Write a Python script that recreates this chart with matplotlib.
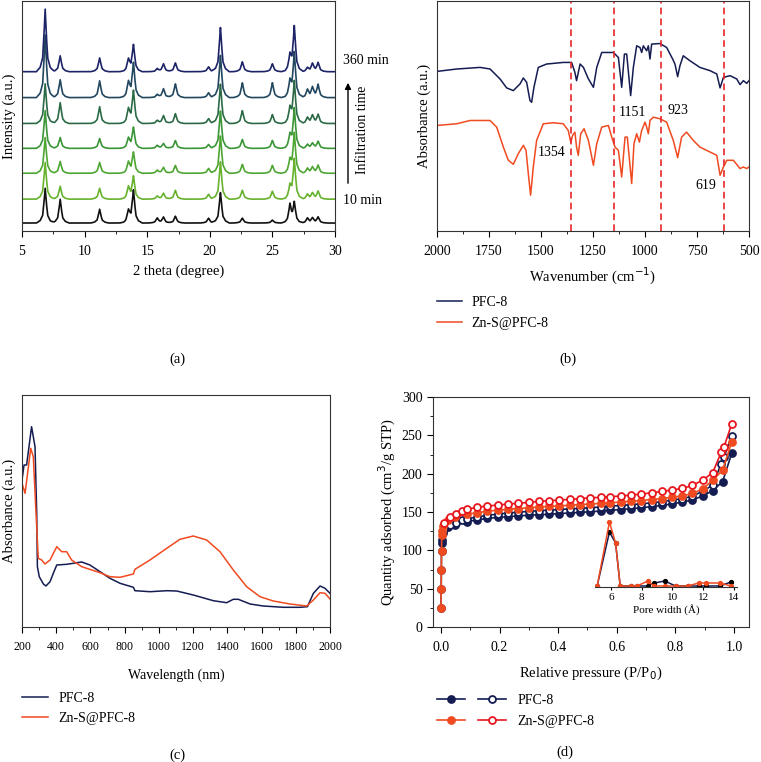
import numpy as np
import matplotlib
matplotlib.use("Agg")
import matplotlib.pyplot as plt
from matplotlib.legend_handler import HandlerTuple
from matplotlib.ticker import MultipleLocator

plt.rcParams['font.family'] = ['Liberation Serif', 'DejaVu Serif']
plt.rcParams['axes.linewidth'] = 0.8
plt.rcParams['axes.edgecolor'] = '#333333'
plt.rcParams['xtick.direction'] = 'out'
plt.rcParams['ytick.direction'] = 'out'

NAVY = '#141c52'
RED = '#f04a20'
RED_OPEN = '#e8161e'

# ---------------- (a) XRD, peak positions (2 theta) and heights per trace
xrd_pos = [6.85, 8.05, 11.2, 13.5, 13.9, 15.8, 16.3, 17.25, 19.9, 20.85,
           22.6, 25.0, 26.4, 26.75, 27.8, 28.2, 28.65]
xrd_base = [8, 32, 58, 83, 108, 134, 160]
xrd_h = [
    [35, 24, 14, 12, 33, 5, 6, 7, 5, 31, 5, 3, 18, 20, 5, 5, 6],
    [37, 13, 11, 12, 23, 3, 6, 9, 5, 38, 9, 8, 12, 40, 5, 6, 8],
    [36, 12, 11, 11, 21, 3, 6, 8, 5, 38, 9, 8, 12, 40, 5, 6, 8],
    [38, 11, 10, 10, 21, 3, 5, 8, 4, 38, 9, 8, 12, 40, 4, 5, 7],
    [40, 21, 17, 14, 33, 3, 8, 10, 5, 40, 13, 9, 14, 42, 6, 8, 9],
    [63, 18, 17, 15, 35, 3, 9, 14, 5, 43, 15, 15, 15, 45, 8, 10, 13],
    [63, 16, 14, 12, 27, 3, 8, 9, 5, 45, 10, 8, 15, 45, 4, 8, 9],
]
xrd_colors = ['#111111', '#66b22c', '#4ea632', '#3a9536', '#2b6a45', '#22475f', '#1c2366']

# ---------------- (b) FTIR
ir_pfc_x = [2000, 1905, 1793, 1745, 1697, 1665, 1633, 1601, 1585, 1569, 1553, 1545, 1534,
            1513, 1473, 1393, 1353, 1337, 1329, 1312, 1296, 1272, 1248, 1232, 1208, 1152,
            1128, 1112, 1099, 1088, 1069, 1056, 1040, 1024, 1016, 1008, 992, 984, 976, 968,
            928, 896, 867, 856, 843, 832, 816, 784, 736, 687, 655, 639, 623, 591, 559, 543,
            527, 511, 500]
ir_pfc_y = [160.3, 162.7, 164.3, 162.7, 152.7, 143.7, 141, 147.7, 153.7, 149.3, 131, 129.3,
            144.3, 164.3, 167.7, 169.3, 169.3, 159.3, 151, 167.7, 164.3, 152.7, 144.3, 164.3,
            179.3, 179.3, 174.3, 144.3, 177.7, 177.7, 136, 164.3, 186, 184.3, 179.3, 186, 181,
            186, 172.7, 187.7, 188.3, 184.3, 172.7, 167.7, 155, 166, 176, 171, 164.3, 161,
            157.7, 143.7, 154.3, 156, 152.7, 147, 151, 148.3, 151]
ir_zns_x = [2000, 1905, 1841, 1745, 1713, 1681, 1657, 1633, 1609, 1585, 1572, 1561, 1550,
            1537, 1521, 1489, 1441, 1393, 1369, 1357, 1348, 1337, 1329, 1321, 1309, 1293,
            1272, 1248, 1232, 1208, 1176, 1160, 1144, 1128, 1112, 1096, 1085, 1064, 1053,
            1040, 1027, 1016, 1000, 992, 984, 976, 960, 928, 896, 864, 843, 824, 800, 768,
            736, 687, 655, 639, 623, 607, 575, 543, 527, 511, 500]
ir_zns_y = [106, 107.7, 111, 111, 104.3, 84.3, 71, 67, 77.7, 86, 81, 57.7, 36, 64.3, 91,
            107.7, 108.7, 107.7, 101, 89.3, 96, 99.3, 84.3, 76, 97.7, 102.7, 91, 66, 87.7,
            104.3, 106, 94.3, 84.3, 81, 54.3, 94.3, 94.3, 47.7, 87.7, 97.7, 89.3, 101, 109.3,
            104.3, 97.7, 111, 114.3, 112.7, 109.3, 91, 73.7, 94.3, 99.3, 91, 84.3, 79.3, 76,
            56, 64.3, 71, 71, 62.7, 64.3, 62.7, 64.3]
ir_marks = [1354, 1151, 923, 619]

# ---------------- (c) UV-vis-NIR
uv_pfc_x = [200, 212, 227, 256, 276, 286, 290, 301, 325, 340, 364, 383, 403, 461, 549, 597,
            656, 714, 773, 851, 860, 948, 1046, 1104, 1201, 1318, 1396, 1435, 1464, 1533,
            1610, 1727, 1825, 1868, 1903, 1942, 1971, 2000]
uv_pfc_y = [147, 162, 162, 200.3, 180.3, 113.7, 60.3, 50.3, 43, 41, 45.3, 53.7, 62, 62.7,
            65, 62, 55.3, 48.7, 43.7, 39.7, 36.3, 35.3, 36.3, 36, 32, 26.3, 24.3, 27.7, 27.7,
            23, 21, 19.7, 19.7, 20.3, 33.7, 41, 38.7, 33.7]
uv_zns_x = [200, 218, 251, 266, 282, 295, 315, 334, 364, 403, 432, 461, 490, 549, 656, 714,
            773, 851, 860, 948, 1046, 1123, 1201, 1279, 1357, 1435, 1513, 1591, 1669, 1766,
            1864, 1903, 1942, 1971, 2000]
uv_zns_y = [143.7, 133.7, 178.7, 170.3, 113.7, 68.7, 67, 63, 67, 80.3, 75.3, 75.3, 67,
            60.3, 54.3, 50.3, 49.7, 53, 57.7, 67, 78.7, 87.7, 91, 87, 75.3, 57, 40.3, 30.3,
            26, 23, 21, 27, 34.3, 33.7, 28]

# ---------------- (d) N2 isotherms
p_ads = [0.0005, 0.001, 0.0015, 0.002, 0.003, 0.005, 0.008, 0.025, 0.047, 0.088, 0.122,
         0.158, 0.196, 0.230, 0.264, 0.300, 0.335, 0.370, 0.404, 0.440, 0.474, 0.509,
         0.545, 0.577, 0.613, 0.648, 0.683, 0.719, 0.753, 0.787, 0.823, 0.858, 0.893,
         0.927, 0.961, 0.992]
pfc_ads = [25, 50, 75, 99, 110, 114, 122, 130, 133.5, 137.4, 139.6, 141.7, 143, 143.9, 145,
           145.7, 146.5, 147, 148, 148.7, 149.5, 150.3, 151.2, 152.2, 153.2, 154.3, 155.5,
           157, 158.5, 160.4, 163, 165.7, 170.9, 177.8, 189.6, 226.5]
zns_ads = [25, 50, 75, 99, 120, 125, 132, 139, 143, 147, 149, 151, 152.5, 153.5, 154.5,
           155.5, 156.5, 157.3, 158, 158.8, 159.6, 160.4, 161.2, 162, 163, 164, 165, 166.2,
           167.5, 169, 171, 174.2, 180, 191.5, 204.5, 241.4]
p_des = [0.011, 0.032, 0.051, 0.071, 0.090, 0.122, 0.158, 0.196, 0.230, 0.264, 0.300,
         0.335, 0.370, 0.404, 0.440, 0.474, 0.509, 0.545, 0.577, 0.613, 0.648, 0.683,
         0.719, 0.753, 0.787, 0.823, 0.858, 0.893, 0.927, 0.956, 0.966, 0.992]
pfc_des = [128, 133, 136, 139, 141, 143.5, 145.5, 147.5, 148.7, 149.8, 150.8, 151.7, 152.5,
           153.3, 154, 154.8, 155.6, 156.5, 157.7, 158.5, 159.5, 160.7, 162, 163.6, 165.5,
           167.5, 170.5, 177.2, 185, 213, 222, 248.9]
zns_des = [135.6, 143.5, 148, 151, 153.5, 156.1, 157.8, 159.1, 160.4, 161.3, 162.6, 163.9,
           164.7, 165.6, 166.5, 167.3, 168.6, 169, 169.9, 170.8, 172.1, 173.3, 175.1, 176.8,
           178.6, 180.7, 184.6, 191.6, 201.2, 227.8, 235.2, 264.8]
pore_w = [5.1, 5.9, 6.3, 6.6, 7.3, 7.7, 8.4, 8.8, 9.5, 10.2, 11.0, 11.7, 12.2, 13.1, 13.8]
pore_pfc = [0, 54, 43, 0, 0, 0, 0, 3, 5, 0, 0, 0, 0, 0, 4]
pore_zns = [0, 64, 43, 0, 0, 0, 5, 0, 0, 0, 0, 3, 3, 3, 0]

W, H = 761, 762
fig = plt.figure(figsize=(W / 100, H / 100), dpi=100)


def box(l, t, r, b):
    return [l / W, 1 - b / H, (r - l) / W, (b - t) / H]


# ---- (a)
ax = fig.add_axes(box(22, 1, 335, 231))
x = np.linspace(5, 30, 3000)
prof_dx = np.array([-0.7, -0.4, -0.2, -0.09, 0, 0.09, 0.2, 0.4, 0.7])
prof_h = np.array([0, 0.07, 0.22, 0.6, 1, 0.6, 0.22, 0.07, 0])
for base, hs, c in zip(xrd_base, xrd_h, xrd_colors):
    y = np.full_like(x, base, dtype=float)
    for p, h in zip(xrd_pos, hs):
        y += np.interp(x, p + prof_dx, h * prof_h)
    ax.plot(x, y, color=c, lw=1.2)
ax.set_xlim(5, 30)
ax.set_ylim(0, 231)
ax.set_yticks([])
ax.xaxis.set_major_locator(MultipleLocator(5))
ax.xaxis.set_minor_locator(MultipleLocator(2.5))
ax.tick_params(axis='x', labelsize=10, length=4, pad=6)
ax.tick_params(axis='x', which='minor', length=2.5)
ax.set_xlabel('2 theta (degree)', fontsize=10.5, labelpad=5)
ax.set_ylabel('Intensity (a.u.)', fontsize=10.5, labelpad=4)
fig.text(343 / W, 1 - 61 / H, '360 min', fontsize=10, va='center')
fig.text(343 / W, 1 - 200 / H, '10 min', fontsize=10, va='center')
fig.text(362 / W, 1 - 130 / H, 'Infiltration time', fontsize=10, rotation=90,
         va='center', ha='center')
ax.annotate('', xy=(348 / W, 1 - 80 / H), xytext=(348 / W, 1 - 186 / H),
            xycoords='figure fraction', textcoords='figure fraction',
            arrowprops=dict(arrowstyle='-|>', color='black', lw=1, mutation_scale=9))
fig.text(177 / W, 1 - 359 / H, '(a)', fontsize=10.5, ha='center', va='center')

# ---- (b)
ax = fig.add_axes(box(437, 1, 749, 231))
l1, = ax.plot(ir_pfc_x, ir_pfc_y, color=NAVY, lw=1.1, label='PFC-8')
l2, = ax.plot(ir_zns_x, ir_zns_y, color=RED, lw=1.1, label='Zn-S@PFC-8')
for m in ir_marks:
    ax.axvline(m, color='#e8262a', ls=(0, (4, 2.5)), lw=1.2)
ax.text(1062, 119, '1151', fontsize=10, ha='center', va='center')
ax.text(841, 121, '923', fontsize=10, ha='center', va='center')
ax.text(1447, 79, '1354', fontsize=10, ha='center', va='center')
ax.text(707, 46, '619', fontsize=10, ha='center', va='center')
ax.set_xlim(2000, 500)
ax.set_ylim(0, 231)
ax.set_yticks([])
ax.xaxis.set_major_locator(MultipleLocator(250))
ax.xaxis.set_minor_locator(MultipleLocator(125))
ax.tick_params(axis='x', labelsize=10, length=4, pad=6)
ax.tick_params(axis='x', which='minor', length=2.5)
ax.set_xlabel('Wavenumber (cm$^{-1}$)', fontsize=10.5, labelpad=6)
ax.set_ylabel('Absorbance (a.u.)', fontsize=10.5, labelpad=4)
ax.legend(handles=[l1, l2], loc='upper left', bbox_to_anchor=(437 / W, 1 - 296 / H),
          bbox_transform=fig.transFigure, frameon=False, fontsize=10,
          handlelength=1.8, handletextpad=0.7, labelspacing=0.6,
          borderpad=0, borderaxespad=0)
fig.text(568 / W, 1 - 359 / H, '(b)', fontsize=10.5, ha='center', va='center')

# ---- (c)
ax = fig.add_axes(box(22, 395, 330, 627))
l1, = ax.plot(uv_pfc_x, uv_pfc_y, color=NAVY, lw=1.1, label='PFC-8')
l2, = ax.plot(uv_zns_x, uv_zns_y, color=RED, lw=1.1, label='Zn-S@PFC-8')
ax.set_xlim(200, 2000)
ax.set_ylim(0, 232)
ax.set_yticks([])
ax.xaxis.set_major_locator(MultipleLocator(200))
ax.xaxis.set_minor_locator(MultipleLocator(100))
ax.tick_params(axis='x', labelsize=8.5, length=4, pad=6)
ax.tick_params(axis='x', which='minor', length=2.5)
ax.set_xlabel('Wavelength (nm)', fontsize=10, labelpad=11)
ax.set_ylabel('Absorbance (a.u.)', fontsize=10.5, labelpad=4)
ax.legend(handles=[l1, l2], loc='upper left', bbox_to_anchor=(22 / W, 1 - 692 / H),
          bbox_transform=fig.transFigure, frameon=False, fontsize=10,
          handlelength=1.9, handletextpad=0.7, labelspacing=0.5,
          borderpad=0, borderaxespad=0)
fig.text(177 / W, 1 - 755 / H, '(c)', fontsize=10.5, ha='center', va='center')

# ---- (d)
ax = fig.add_axes(box(433, 397, 749, 627))
ms, mew = 5, 1.3
a1, = ax.plot(p_ads, pfc_ads, '-o', color=NAVY, mfc=NAVY, ms=ms, mew=mew, lw=1.2)
d1, = ax.plot(p_des, pfc_des, '-o', color=NAVY, mfc='white', ms=ms, mew=mew, lw=1.2)
a2, = ax.plot(p_ads, zns_ads, '-o', color=RED, mfc=RED, ms=ms, mew=mew, lw=1.2)
d2, = ax.plot(p_des, zns_des, '-o', color=RED_OPEN, mfc='white', ms=ms, mew=mew, lw=1.2)
ax.set_xlim(-0.027, 1.051)
ax.set_ylim(0, 300)
ax.xaxis.set_major_locator(MultipleLocator(0.2))
ax.xaxis.set_minor_locator(MultipleLocator(0.1))
ax.yaxis.set_major_locator(MultipleLocator(50))
ax.yaxis.set_minor_locator(MultipleLocator(25))
ax.tick_params(axis='both', labelsize=10, length=4)
ax.tick_params(axis='x', pad=6)
ax.tick_params(axis='both', which='minor', length=2.5)
ax.xaxis.set_major_formatter(plt.FuncFormatter(lambda v, _: f'{v:.1f}'))
ax.set_xlabel('Relative pressure (P/P$_0$)', fontsize=10.5, labelpad=8)
ax.set_ylabel('Quantity adsorbed (cm$^3$/g STP)', fontsize=10.5, labelpad=3)
ax.legend(handles=[(a1, d1), (a2, d2)], labels=['PFC-8', 'Zn-S@PFC-8'],
          handler_map={tuple: HandlerTuple(ndivide=None, pad=0.9)},
          loc='upper left', bbox_to_anchor=(437 / W, 1 - 694 / H),
          bbox_transform=fig.transFigure, frameon=False, fontsize=10,
          handlelength=5.0, handletextpad=0.8, labelspacing=0.55,
          borderpad=0, borderaxespad=0)
fig.text(565 / W, 1 - 752 / H, '(d)', fontsize=10.5, ha='center', va='center')

# inset: pore size distribution
ins = fig.add_axes(box(595, 517, 737, 587))
ins.plot(pore_w, pore_pfc, '-o', color=NAVY, mfc='black', mec='black', ms=2.8, lw=1.1)
ins.plot(pore_w, pore_zns, '-o', color=RED, mfc=RED, mec=RED, ms=2.8, lw=1.1)
ins.set_xlim(4.96, 14.2)
ins.set_ylim(-1, 69)
ins.set_yticks([])
ins.set_xticks([6, 8, 10, 12, 14])
for s in ['top', 'right', 'left']:
    ins.spines[s].set_visible(False)
ins.patch.set_alpha(0)
ins.tick_params(axis='x', labelsize=8, length=2, pad=2)
ins.set_xlabel('Pore width (Å)', fontsize=8, labelpad=2)

fig.savefig('out.png', dpi=100)
